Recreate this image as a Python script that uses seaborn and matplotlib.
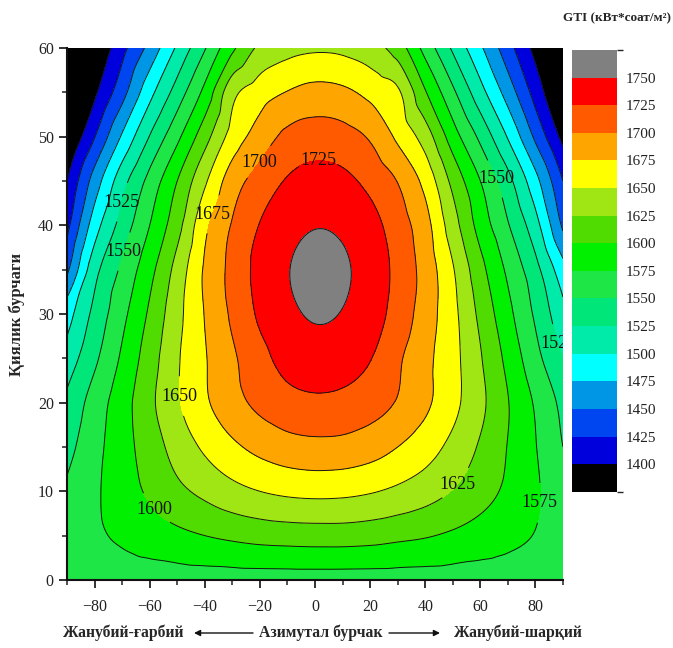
import matplotlib
matplotlib.use("Agg")
import matplotlib.pyplot as plt
import matplotlib.tri as mtri
from matplotlib.colors import ListedColormap, BoundaryNorm
import numpy as np
import pandas as pd
import seaborn as sns

# Azimuth (deg) and tilt (deg) grid of the GTI map
azimuth = [-90, -80, -70, -60, -50, -40, -30, -20, -10, 0, 10, 20, 30, 40, 50, 60, 70, 80, 90]
tilt = [0, 5, 10, 15, 20, 25, 30, 35, 40, 45, 50, 55, 60]

# Annual GTI, kWh/m2, one list per tilt angle (columns follow `azimuth`)
gti_tilt_00 = [1563] * 19
gti_tilt_05 = [1562, 1571, 1579, 1587, 1594, 1600, 1605, 1609, 1611, 1612, 1612, 1610, 1606, 1602, 1596, 1589, 1582, 1574, 1566]
gti_tilt_10 = [1553, 1571, 1588, 1604, 1619, 1631, 1642, 1650, 1655, 1657, 1656, 1652, 1645, 1636, 1624, 1610, 1595, 1578, 1560]
gti_tilt_15 = [1542, 1567, 1590, 1612, 1635, 1654, 1670, 1682, 1690, 1693, 1692, 1686, 1675, 1661, 1643, 1622, 1599, 1576, 1550]
gti_tilt_20 = [1530, 1561, 1589, 1619, 1647, 1671, 1691, 1706, 1716, 1720, 1718, 1711, 1698, 1680, 1657, 1631, 1601, 1572, 1543]
gti_tilt_25 = [1511, 1545, 1579, 1613, 1647, 1673, 1696, 1717, 1734, 1740, 1737, 1726, 1704, 1682, 1658, 1627, 1593, 1558, 1525]
gti_tilt_30 = [1489, 1532, 1568, 1604, 1642, 1676, 1704, 1729, 1745, 1752, 1749, 1737, 1715, 1688, 1657, 1619, 1582, 1546, 1507]
gti_tilt_35 = [1445, 1516, 1555, 1592, 1634, 1678, 1707, 1733, 1749, 1756, 1753, 1740, 1718, 1690, 1652, 1608, 1570, 1533, 1484]
gti_tilt_40 = [1418, 1488, 1535, 1575, 1616, 1669, 1702, 1726, 1742, 1749, 1746, 1734, 1712, 1684, 1636, 1590, 1552, 1509, 1446]
gti_tilt_45 = [1400, 1461, 1515, 1558, 1600, 1646, 1688, 1710, 1727, 1734, 1731, 1718, 1699, 1667, 1618, 1575, 1533, 1483, 1425]
gti_tilt_50 = [1372, 1424, 1478, 1526, 1569, 1615, 1660, 1686, 1706, 1712, 1709, 1697, 1670, 1638, 1587, 1544, 1498, 1445, 1392]
gti_tilt_55 = [1345, 1395, 1441, 1492, 1536, 1582, 1642, 1663, 1676, 1683, 1680, 1668, 1654, 1602, 1555, 1509, 1464, 1415, 1365]
gti_tilt_60 = [1336, 1376, 1417, 1458, 1504, 1548, 1595, 1630, 1641, 1646, 1644, 1635, 1613, 1566, 1521, 1479, 1435, 1392, 1352]

gti_rows = [gti_tilt_00, gti_tilt_05, gti_tilt_10, gti_tilt_15, gti_tilt_20, gti_tilt_25,
            gti_tilt_30, gti_tilt_35, gti_tilt_40, gti_tilt_45, gti_tilt_50, gti_tilt_55, gti_tilt_60]

# Contour levels and colour of each band (below 1400 ... above 1750)
gti_levels = [1400, 1425, 1450, 1475, 1500, 1525, 1550, 1575, 1600, 1625, 1650, 1675, 1700, 1725, 1750]
band_colors = ["#000000", "#0000dc", "#0046f0", "#0096e6", "#00ffff", "#00ebaa", "#00e678",
               "#1ee646", "#00f000", "#50dc00", "#a0e614", "#ffff00", "#ffa500", "#ff5a00",
               "#ff0000", "#808080"]

# Contour labels: (level, azimuth, tilt) where each label sits
label_spots = [(1525, -70, 42.6), (1550, -70, 37.1), (1675, -37.5, 41.3), (1700, -21, 47.3),
               (1725, 1, 47.5), (1550, 66, 45.3), (1525, 87.5, 26.6), (1650, -49.7, 20.7),
               (1600, -57.3, 8.2), (1625, 51.5, 10.8), (1575, 80.5, 8.7)]

df = pd.DataFrame(gti_rows, index=tilt, columns=azimuth)
long = df.stack().rename("gti").reset_index()
long.columns = ["tilt", "azimuth", "gti"]

sns.set_theme(style="ticks")
plt.rcParams["font.family"] = ["Liberation Serif", "DejaVu Serif"]

fig = plt.figure(figsize=(6.73, 6.48), dpi=100)
ax = fig.add_axes([0.0996, 0.105, 0.737, 0.821])

# regular-grid triangulation with alternating diagonals
n_rows, n_cols = len(tilt), len(azimuth)
node = np.arange(n_rows * n_cols).reshape(n_rows, n_cols)
triangles = []
for i in range(n_rows - 1):
    for j in range(n_cols - 1):
        a, b, c, d = node[i, j], node[i, j + 1], node[i + 1, j], node[i + 1, j + 1]
        if (i + j) % 2 == 0:
            triangles += [(a, b, d), (a, d, c)]
        else:
            triangles += [(a, b, c), (b, d, c)]
triang = mtri.Triangulation(long["azimuth"].to_numpy(float), long["tilt"].to_numpy(float),
                            triangles=np.array(triangles))
gti_nodes = long["gti"].to_numpy(float)
interp = mtri.CubicTriInterpolator(triang, gti_nodes, kind="geom")
tri_fine, gti_fine = mtri.UniformTriRefiner(triang).refine_field(gti_nodes, triinterpolator=interp,
                                                                 subdiv=4)

bounds = [1000] + gti_levels + [2000]
cmap = ListedColormap(sns.color_palette(band_colors))
norm = BoundaryNorm(bounds, cmap.N)

filled = ax.tricontourf(tri_fine, gti_fine, levels=bounds, cmap=cmap, norm=norm)

# one line set per level so each label lands on its own isoline
line_sets = {}
for lev in gti_levels:
    line_sets[lev] = ax.tricontour(tri_fine, gti_fine, levels=[lev], colors="#151515",
                                   linewidths=0.7)

for lev in sorted(set(l for l, _, _ in label_spots)):
    spots = [(a, t) for l, a, t in label_spots if l == lev]
    cs = line_sets[lev]
    cs.clabel(manual=spots, inline=True, inline_spacing=2, fmt="%d", fontsize=13,
              colors="#111111")
    for t in cs.labelTexts:
        t.set_rotation(0)
        t.set_clip_on(True)
        t.set_clip_box(ax.bbox)

ax.set_xlim(-90, 90)
ax.set_ylim(0, 60)
ax.set_xticks([-80, -60, -40, -20, 0, 20, 40, 60, 80])
ax.set_xticks(azimuth, minor=True)
ax.set_yticks([0, 10, 20, 30, 40, 50, 60])
ax.set_yticks([5, 15, 25, 35, 45, 55], minor=True)
ax.tick_params(which="major", length=6, width=1.3, direction="out", labelsize=11.5, colors="#222222")
ax.tick_params(which="minor", length=3.5, width=1.1, direction="out", colors="#222222")
ax.tick_params(axis="x", pad=8)
sns.despine(ax=ax)
for side in ("left", "bottom"):
    ax.spines[side].set_linewidth(1.5)
    ax.spines[side].set_color("#111111")

ax.set_ylabel("Қиялик бурчаги", fontsize=12, fontweight="bold", labelpad=9)
ax.set_xlabel("")

# Azimuth caption with direction arrows
ycap = 1 - 633 / 648
fig.text(123 / 673, ycap, "Жанубий-ғарбий", ha="center", va="center", fontsize=11.3, fontweight="bold")
fig.text(321 / 673, ycap, "Азимутал бурчак", ha="center", va="center", fontsize=11.3, fontweight="bold")
fig.text(518 / 673, ycap, "Жанубий-шарқий", ha="center", va="center", fontsize=11.3, fontweight="bold")
arrow = dict(arrowstyle="-|>", color="#111111", lw=1.0, mutation_scale=9, shrinkA=0, shrinkB=0)
ax.annotate("", xy=(194 / 673, ycap), xytext=(253 / 673, ycap), xycoords="figure fraction",
            textcoords="figure fraction", arrowprops=arrow)
ax.annotate("", xy=(440 / 673, ycap), xytext=(389 / 673, ycap), xycoords="figure fraction",
            textcoords="figure fraction", arrowprops=arrow)

cax = fig.add_axes([0.850, 0.241, 0.067, 0.682])
cb = fig.colorbar(filled, cax=cax, ticks=gti_levels, spacing="uniform")
cb.outline.set_visible(False)
cax.tick_params(length=0, labelsize=11, pad=6, colors="#222222")
fig.text(0.997, 1 - 18 / 648, "GTI (кВт*соат/м²)", ha="right", va="center", fontsize=9.5,
         fontweight="bold")

fig.savefig("out.png", dpi=100, facecolor="white")
